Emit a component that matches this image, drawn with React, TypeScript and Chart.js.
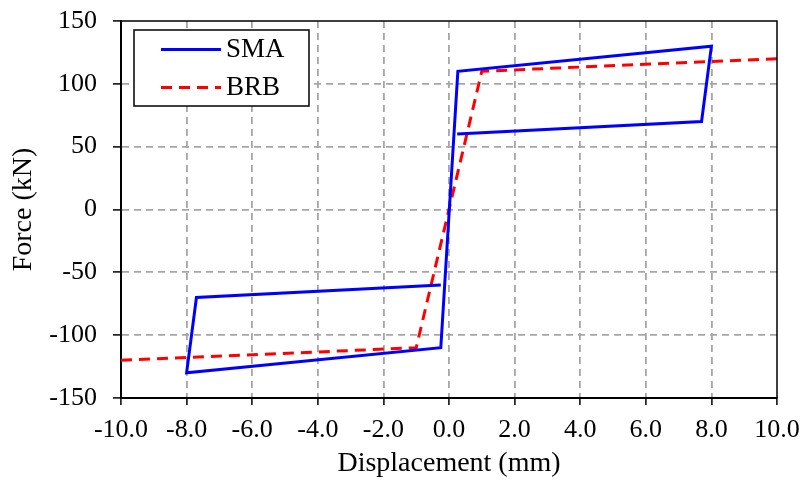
import React, { useEffect, useRef } from "react";
import { Chart, registerables } from "chart.js";

Chart.register(...registerables);

const smaX = [-0.25, -7.7, -8.0, -0.25, 0.27, 8.0, 7.7, 0.25];
const smaY = [-60, -70, -130, -110, 110, 130, 70, 60];
const brbX = [-10, -1.0, 1.0, 10];
const brbY = [-120, -110, 110, 120];
const seriesNames = ["SMA", "BRB"];
const xTicks = [-10, -8, -6, -4, -2, 0, 2, 4, 6, 8, 10];
const yTicks = [-150, -100, -50, 0, 50, 100, 150];

const FONT = "'Liberation Serif', 'Times New Roman', serif";

const framePlugin = {
  id: "frame",
  afterDatasetsDraw(chart: any) {
    const { ctx, chartArea } = chart;
    ctx.save();
    ctx.strokeStyle = "#000";
    ctx.lineWidth = 1.5;
    ctx.beginPath();
    ctx.moveTo(chartArea.left, chartArea.top);
    ctx.lineTo(chartArea.right, chartArea.top);
    ctx.lineTo(chartArea.right, chartArea.bottom);
    ctx.stroke();
    ctx.restore();
  },
};

const legendPlugin = {
  id: "boxLegend",
  afterDraw(chart: any) {
    const { ctx, chartArea } = chart;
    const x0 = chartArea.left + 13;
    const y0 = chartArea.top + 9;
    const w = 175;
    const h = 76;
    ctx.save();
    ctx.fillStyle = "#fff";
    ctx.fillRect(x0, y0, w, h);
    ctx.strokeStyle = "#000";
    ctx.lineWidth = 1.5;
    ctx.strokeRect(x0, y0, w, h);
    chart.data.datasets.forEach((ds: any, i: number) => {
      const y = y0 + 19.5 + i * 38;
      ctx.strokeStyle = ds.borderColor;
      ctx.lineWidth = ds.borderWidth;
      ctx.setLineDash(ds.borderDash || []);
      ctx.beginPath();
      ctx.moveTo(x0 + 27, y);
      ctx.lineTo(x0 + 87, y);
      ctx.stroke();
      ctx.setLineDash([]);
      ctx.fillStyle = "#000";
      ctx.font = `27px ${FONT}`;
      ctx.textBaseline = "middle";
      ctx.textAlign = "left";
      ctx.fillText(ds.label, x0 + 92, y + 0.5);
    });
    ctx.restore();
  },
};

export default function App() {
  const ref = useRef<HTMLCanvasElement | null>(null);
  useEffect(() => {
    if (!ref.current) return;
    const chart = new Chart(ref.current, {
      type: "scatter",
      data: {
        datasets: [
          {
            label: seriesNames[0],
            data: smaX.map((x, i) => ({ x, y: smaY[i] })),
            showLine: true,
            borderColor: "#0000ff",
            borderWidth: 3,
            pointRadius: 0,
            fill: false,
            tension: 0,
          },
          {
            label: seriesNames[1],
            data: brbX.map((x, i) => ({ x, y: brbY[i] })),
            showLine: true,
            borderColor: "#ff0000",
            borderWidth: 3,
            borderDash: [11, 7],
            pointRadius: 0,
            fill: false,
            tension: 0,
          },
        ],
      },
      options: {
        animation: false,
        responsive: false,
        maintainAspectRatio: false,
        layout: { padding: { left: 0, right: 28, top: 21, bottom: 0 } },
        plugins: { legend: { display: false }, tooltip: { enabled: false } },
        scales: {
          x: {
            type: "linear",
            min: -10,
            max: 10,
            afterBuildTicks: (s: any) => {
              s.ticks = xTicks.map((v) => ({ value: v }));
            },
            afterFit: (s: any) => {
              s.height = 91;
              s.paddingLeft = 0;
              s.paddingRight = 0;
            },
            ticks: {
              font: { family: FONT, size: 26 },
              color: "#000",
              padding: 10,
              maxRotation: 0,
              autoSkip: false,
              callback: (v: any) => Number(v).toFixed(1),
            },
            grid: {
              color: (c: any) =>
                c.tick && (c.tick.value === -10 || c.tick.value === 10)
                  ? "rgba(0,0,0,0)"
                  : "#a6a6a6",
              lineWidth: 1.8,
              tickColor: "#000",
              tickLength: 7,
              tickWidth: 1.5,
            },
            border: { color: "#000", width: 2, dash: [7, 5] as any },
            title: {
              display: true,
              text: "Displacement (mm)",
              font: { family: FONT, size: 28 },
              color: "#000",
              padding: { top: 0, bottom: 9 },
            },
          },
          y: {
            type: "linear",
            min: -150,
            max: 150,
            afterBuildTicks: (s: any) => {
              s.ticks = yTicks.map((v) => ({ value: v }));
            },
            afterFit: (s: any) => {
              s.width = 121;
              s.paddingTop = 0;
              s.paddingBottom = 0;
            },
            ticks: {
              font: { family: FONT, size: 26 },
              color: "#000",
              padding: 16,
              autoSkip: false,
              callback: (v: any) => String(v),
            },
            grid: {
              color: (c: any) =>
                c.tick && (c.tick.value === -150 || c.tick.value === 150)
                  ? "rgba(0,0,0,0)"
                  : "#a6a6a6",
              lineWidth: 1.8,
              tickColor: "#000",
              tickLength: 8,
              tickWidth: 1.5,
            },
            border: { color: "#000", width: 2, dash: [7, 5] as any },
            title: {
              display: true,
              text: "Force (kN)",
              font: { family: FONT, size: 28 },
              color: "#000",
              padding: { top: 7, bottom: 0 },
            },
          },
        },
      },
      plugins: [framePlugin, legendPlugin],
    } as any);
    return () => chart.destroy();
  }, []);
  return (
    <div style={{ position: "fixed", left: 0, top: 0, width: 805, height: 489, background: "#fff" }}>
      <canvas ref={ref} width={805} height={489} style={{ display: "block" }} />
    </div>
  );
}
